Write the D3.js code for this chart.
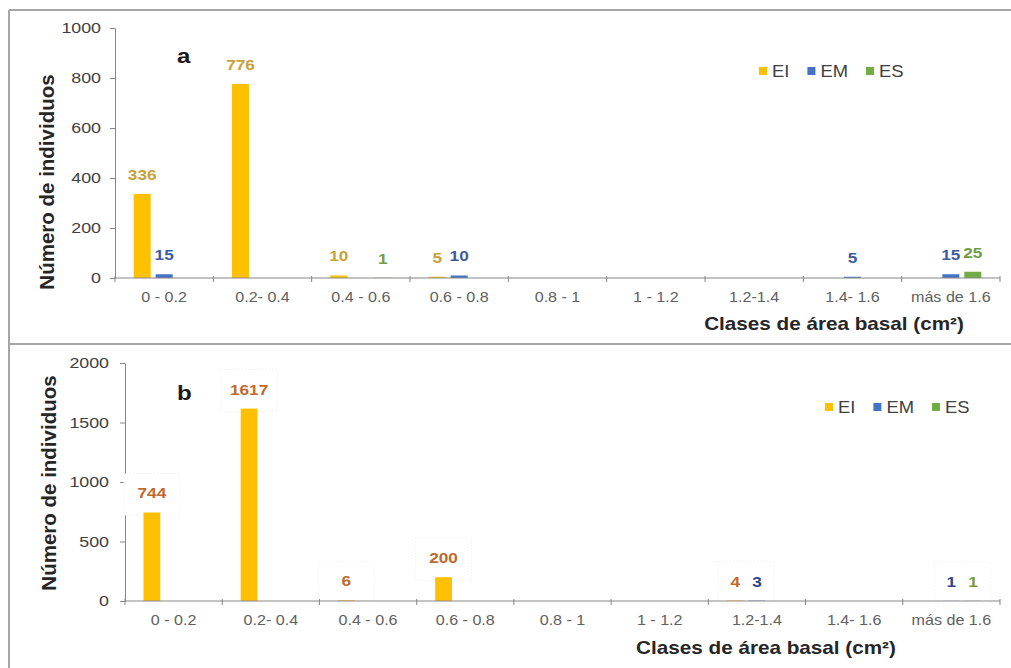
<!DOCTYPE html>
<html><head><meta charset="utf-8">
<script src="https://cdnjs.cloudflare.com/ajax/libs/d3/7.8.5/d3.min.js"></script>
<style>
html,body{margin:0;padding:0;background:#fff;}
svg{display:block;font-family:Arial,"Liberation Sans",sans-serif;}
</style></head>
<body><svg id="c" width="1011" height="668"></svg>
<script>
// ---- data ----
const categories = ["0 - 0.2","0.2- 0.4","0.4 - 0.6","0.6 - 0.8","0.8 - 1","1 - 1.2","1.2-1.4","1.4- 1.6","más de 1.6"];
const seriesNames = ["EI","EM","ES"];
const seriesColors = ["#ffc000","#4472c4","#70ad47"];
// panel a
const aEI = [336,776,10,5,0,0,0,0,0];
const aEM = [15,0,0,10,0,0,0,5,15];
const aES = [0,0,1,0,0,0,0,0,25];
const aYTicks = [0,200,400,600,800,1000];
const aLabelColors = ["#c6a23a","#3d5c9e","#6f9d45"];
// panel b
const bEI = [744,1617,6,200,0,0,4,0,0];
const bEM = [0,0,0,0,0,0,3,0,1];
const bES = [0,0,0,0,0,0,0,0,1];
const bYTicks = [0,500,1000,1500,2000];
const bLabelColors = ["#bf6a2c","#34458a","#7a9a3c"];
const yTitle = "Número de individuos";
const xTitle = "Clases de área basal (cm²)";

const SX = 1.15;
const svg = d3.select("#c");
function stretch(sel){
  sel.each(function(){
    const t = d3.select(this);
    const x = +t.attr("x") || 0;
    t.attr("transform", `translate(${x},0) scale(${SX},1) translate(${-x},0)`);
  });
}

// frame
const frame = svg.append("g").attr("stroke","#a6a6a6").attr("stroke-width",2).attr("fill","none");
frame.append("line").attr("x1",9).attr("x2",1011).attr("y1",10).attr("y2",10);
frame.append("line").attr("x1",9).attr("x2",9).attr("y1",10).attr("y2",668);
frame.append("line").attr("x1",9).attr("x2",1011).attr("y1",344).attr("y2",344);

const panels = [
  {letter:"a", series:[aEI,aEM,aES], yTicks:aYTicks, xr:[115,1000], yr:[278,28], colors:aLabelColors,
   letterPos:[177,63], legendPos:[759,71], xTitlePos:[834,330], yTitlePos:[54,182], tickPad:9, boxes:false},
  {letter:"b", series:[bEI,bEM,bES], yTicks:bYTicks, xr:[125,1000], yr:[601,363], colors:bLabelColors,
   letterPos:[177,400], legendPos:[825,407], xTitlePos:[766,654], yTitlePos:[56,483], tickPad:11, boxes:true}
];

panels.forEach(p=>{
  const g = svg.append("g");
  const x0 = d3.scaleBand().domain(categories).range(p.xr).paddingInner(0.38).paddingOuter(0.19);
  const x1 = d3.scaleBand().domain(seriesNames).range([0,x0.bandwidth()]).paddingInner(0.227).paddingOuter(0);
  const y = d3.scaleLinear().domain([0,d3.max(p.yTicks)]).range(p.yr);

  // y axis
  const ya = g.append("g").attr("transform",`translate(${p.xr[0]},0)`)
    .call(d3.axisLeft(y).tickValues(p.yTicks).tickFormat(d3.format("d")).tickSize(5).tickSizeOuter(0).tickPadding(p.tickPad));
  ya.select(".domain").attr("stroke","#868686");
  ya.selectAll(".tick line").attr("stroke","#868686");
  ya.selectAll("text").attr("font-size",15.5).attr("fill","#404040").attr("font-family","Arial, Liberation Sans, sans-serif").call(stretch);

  const rows = categories.map((c,i)=>({c,i,vals:p.series.map(s=>s[i])}));

  // faint label frames (panel b)
  if(p.boxes){
    rows.forEach(r=>{
      const idx = r.vals.map((v,k)=>v>0?k:-1).filter(k=>k>=0);
      if(!idx.length) return;
      const xs = idx.map(k=>x0(r.c)+x1(seriesNames[k])+x1.bandwidth()/2);
      const cx = d3.mean(xs);
      const top = d3.min(idx.map(k=>y(r.vals[k])))-14;
      g.append("rect").attr("x",cx-28).attr("y",top-25).attr("width",56).attr("height",42)
        .attr("fill","#fff").attr("stroke","#ececec").attr("stroke-dasharray","1,2");
    });
  }

  // bars
  const grp = g.selectAll("g.cat").data(rows).join("g").attr("class","cat")
    .attr("transform",d=>`translate(${x0(d.c)},0)`);
  grp.selectAll("rect").data(d=>d.vals.map((v,k)=>({v,k})).filter(e=>e.v>0)).join("rect")
    .attr("x",e=>x1(seriesNames[e.k])).attr("width",x1.bandwidth())
    .attr("y",e=>y(e.v)).attr("height",e=>y(0)-y(e.v))
    .attr("fill",e=>seriesColors[e.k]);
  grp.selectAll("text").data(d=>d.vals.map((v,k)=>({v,k})).filter(e=>e.v>0)).join("text")
    .attr("x",e=>x1(seriesNames[e.k])+x1.bandwidth()/2).attr("y",e=>y(e.v)-14)
    .attr("text-anchor","middle").attr("font-size",15).attr("font-weight","bold")
    .attr("fill",e=>p.colors[e.k]).text(e=>e.v).call(stretch);

  // x axis
  const y0 = y(0);
  g.append("line").attr("x1",p.xr[0]).attr("x2",p.xr[1]).attr("y1",y0).attr("y2",y0).attr("stroke","#868686");
  const bounds = d3.range(categories.length+1).map(i=>p.xr[0]+i*x0.step());
  g.selectAll("line.xt").data(bounds).join("line").attr("class","xt")
    .attr("x1",d=>d).attr("x2",d=>d).attr("y1",y0-2).attr("y2",y0+4).attr("stroke","#868686");
  g.selectAll("text.xl").data(categories).join("text").attr("class","xl")
    .attr("x",d=>x0(d)+x0.bandwidth()/2).attr("y",y0+24).attr("text-anchor","middle")
    .attr("font-size",14).attr("fill","#606060").text(d=>d).call(stretch);

  // panel letter
  g.append("text").attr("x",p.letterPos[0]).attr("y",p.letterPos[1]).attr("font-size",21)
    .attr("font-weight","bold").attr("fill","#1a1a1a").text(p.letter).call(stretch);

  // legend
  const lg = g.append("g").attr("transform",`translate(${p.legendPos[0]},${p.legendPos[1]})`);
  let cx = 0;
  seriesNames.forEach((s,k)=>{
    lg.append("rect").attr("x",cx).attr("y",-4).attr("width",8).attr("height",8).attr("fill",seriesColors[k]);
    const t = lg.append("text").attr("x",cx+13).attr("y",6).attr("font-size",16).attr("fill","#404040").text(s);
    const w = t.node().getComputedTextLength()*SX;
    t.call(stretch);
    cx += 13 + w + 18;
  });

  // axis titles
  g.append("text").attr("x",p.xTitlePos[0]).attr("y",p.xTitlePos[1]).attr("text-anchor","middle")
    .attr("font-size",18).attr("font-weight","bold").attr("fill","#262626").text(xTitle).call(stretch);
  g.append("text").attr("transform",`translate(${p.yTitlePos[0]},${p.yTitlePos[1]}) rotate(-90)`)
    .attr("text-anchor","middle").attr("font-size",20.5).attr("font-weight","bold").attr("fill","#262626").text(yTitle);
});
</script></body></html>
